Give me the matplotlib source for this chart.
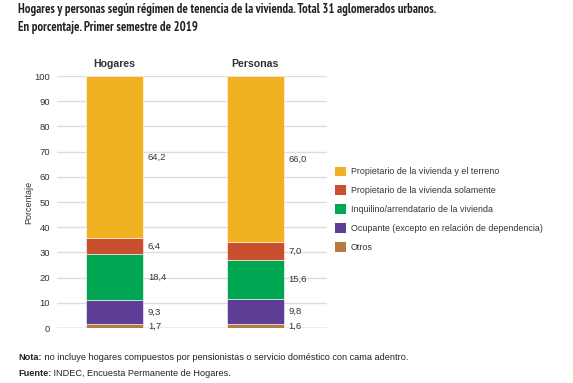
import matplotlib.pyplot as plt
from matplotlib.patches import Patch
from matplotlib import font_manager

groups = ['Hogares', 'Personas']
categories = ['Propietario de la vivienda y el terreno',
              'Propietario de la vivienda solamente',
              'Inquilino/arrendatario de la vivienda',
              'Ocupante (excepto en relación de dependencia)',
              'Otros']
# values per category, [Hogares, Personas]
propietario_terreno = [64.2, 66.0]
propietario_vivienda = [6.4, 7.0]
inquilino = [18.4, 15.6]
ocupante = [9.3, 9.8]
otros = [1.7, 1.6]

colors = ['#F0B123', '#C8502F', '#00A652', '#5E3D97', '#B37B3E']

names = {f.name for f in font_manager.fontManager.ttflist}
narrow = 'DejaVu Sans'
for cand in ['PT Sans Narrow', 'Archivo Narrow', 'Roboto Condensed']:
    if cand in names:
        narrow = cand
        break
plt.rcParams['font.family'] = ['Liberation Sans', 'DejaVu Sans']

fig = plt.figure(figsize=(5.73, 3.83), dpi=100)
W, H = 573, 383
ax = fig.add_axes([57 / W, (H - 328) / H, 270 / W, 252 / H])

# stack from bottom
stack = [otros, ocupante, inquilino, propietario_vivienda, propietario_terreno]
stack_colors = colors[::-1]
x = [0, 1]
bottom = [0, 0]
for vals, c in zip(stack, stack_colors):
    ax.bar(x, vals, width=0.406, bottom=bottom, color=c, edgecolor='white', linewidth=0.4, zorder=3)
    for i in range(2):
        ax.text(x[i] + 0.238, bottom[i] + vals[i] / 2, f'{vals[i]:.1f}'.replace('.', ','),
                ha='left', va='center', fontsize=6.8, color='#333333')
    bottom = [bottom[i] + vals[i] for i in range(2)]

for i, g in enumerate(groups):
    ax.text(x[i], 104.8, g, ha='center', va='center', fontsize=7.6, fontweight='bold', color='#333333')

ax.set_xlim(-0.409, 1.512)
ax.set_ylim(0, 100)
ax.set_yticks(range(0, 101, 10))
ax.set_xticks([])
ax.tick_params(axis='y', length=0, pad=5, labelsize=6.8, labelcolor='#333333')
ax.grid(axis='y', color='#DDDDDD', linewidth=1, zorder=0)
for s in ax.spines.values():
    s.set_visible(False)
ax.axhline(0, color='#BBBBBB', linewidth=1, zorder=2)
ax.set_ylabel('Porcentaje', fontsize=6.5, color='#333333', labelpad=1)

handles = [Patch(facecolor=c, edgecolor='none') for c in colors]
fig.legend(handles, categories, loc='upper left', bbox_to_anchor=(331 / W, (H - 163) / H),
           frameon=False, fontsize=6.4, labelcolor='#333333', handlelength=1.3, handleheight=1.3,
           handletextpad=0.5, labelspacing=1.02, borderaxespad=0)

fig.text(18 / W, 1 - 10 / H, 'Hogares y personas según régimen de tenencia de la vivienda. Total 31 aglomerados urbanos.',
         family=narrow, fontweight='bold', fontsize=9.05, color='#222222', va='center')
fig.text(18 / W, 1 - 27 / H, 'En porcentaje. Primer semestre de 2019',
         family=narrow, fontweight='bold', fontsize=9.05, color='#222222', va='center')

renderer = fig.canvas.get_renderer()
for y, head, rest in [(357, 'Nota:', ' no incluye hogares compuestos por pensionistas o servicio doméstico con cama adentro.'),
                      (373, 'Fuente:', ' INDEC, Encuesta Permanente de Hogares.')]:
    t = fig.text(18 / W, 1 - y / H, head, fontsize=6.6, fontweight='bold', va='center', color='#222222')
    bb = t.get_window_extent(renderer)
    fig.text(bb.x1 / W, 1 - y / H, rest, fontsize=6.6, va='center', color='#222222')

fig.savefig('out.png', dpi=100)
